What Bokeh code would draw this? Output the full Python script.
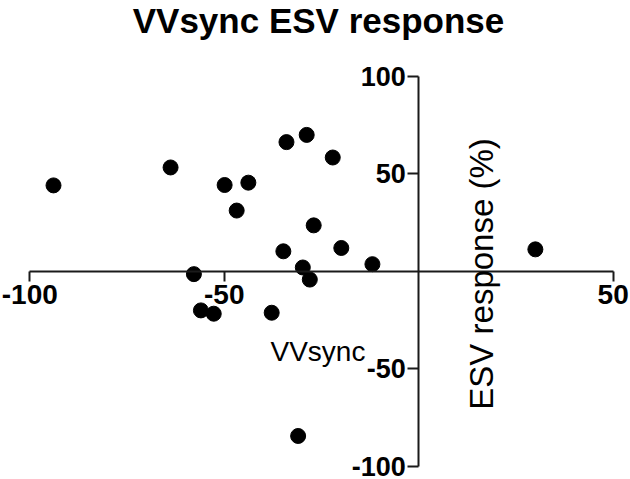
import math
from bokeh.plotting import figure
from bokeh.models import LinearAxis, FixedTicker, Label, Range1d, ColumnDataSource
from bokeh.embed import file_html
from bokeh.resources import INLINE

# Data (VVsync vs ESV response)
vvsync = [-93.9, -63.8, -49.9, -43.8, -46.8, -34.0, -28.8, -22.1, -27.0, -34.8,
          -19.9, -11.9, -29.8, -57.8, -28.0, 30.0, -56.0, -52.7, -37.8, -31.0]
esv_response = [44.0, 53.2, 44.2, 45.4, 31.1, 66.2, 69.9, 58.3, 23.5, 10.2,
                11.9, 3.6, 1.9, -1.5, -4.3, 11.2, -20.1, -21.8, -21.3, -84.5]

x_ticks = [-100, -50, 50]
y_ticks = [-100, -50, 50, 100]

title_text = "VVsync ESV response"
x_label = "VVsync"
y_label = "ESV response (%)"

FONT = "Liberation Sans"

p = figure(width=630, height=479, output_backend="svg", toolbar_location=None,
           x_axis_type=None, y_axis_type=None,
           x_range=Range1d(-107.53, 54.46), y_range=Range1d(-106.82, 138.82),
           min_border=0, min_border_left=0, min_border_right=0,
           min_border_top=0, min_border_bottom=0)
p.outline_line_color = None
p.xgrid.visible = False
p.ygrid.visible = False
p.background_fill_color = "white"
p.border_fill_color = "white"

src = ColumnDataSource(dict(x=vvsync, y=esv_response))
p.scatter("x", "y", source=src, size=15, fill_color="black", line_color="black")

axis_color = "#1a1a1a"

xaxis = LinearAxis(fixed_location=0, bounds=(-100, 50),
                   ticker=FixedTicker(ticks=x_ticks))
xaxis.major_label_overrides = {t: str(t) for t in x_ticks}
xaxis.axis_line_color = axis_color
xaxis.axis_line_width = 2
xaxis.major_tick_line_color = axis_color
xaxis.major_tick_line_width = 2
xaxis.major_tick_out = 10
xaxis.major_tick_in = 0
xaxis.minor_tick_line_color = None
xaxis.major_label_text_font = FONT
xaxis.major_label_text_font_style = "bold"
xaxis.major_label_text_font_size = "28px"
xaxis.major_label_text_color = "black"
xaxis.major_label_standoff = 4
p.add_layout(xaxis, "below")

yaxis = LinearAxis(fixed_location=0, bounds=(-100, 100),
                   ticker=FixedTicker(ticks=y_ticks))
yaxis.major_label_overrides = {t: str(t) for t in y_ticks}
yaxis.axis_line_color = axis_color
yaxis.axis_line_width = 2
yaxis.major_tick_line_color = axis_color
yaxis.major_tick_line_width = 2
yaxis.major_tick_out = 11
yaxis.major_tick_in = 0
yaxis.minor_tick_line_color = None
yaxis.major_label_text_font = FONT
yaxis.major_label_text_font_style = "bold"
yaxis.major_label_text_font_size = "27px"
yaxis.major_label_text_color = "black"
yaxis.major_label_standoff = 2
p.add_layout(yaxis, "left")

p.add_layout(Label(x=-25.77, y=128.6, text=title_text, text_align="center",
                   text_baseline="alphabetic", text_font=FONT,
                   text_font_style="bold", text_font_size="35px",
                   text_color="black"))
p.add_layout(Label(x=-38.11, y=-41.3, text=x_label, text_align="left",
                   text_baseline="alphabetic", text_font=FONT,
                   text_font_size="28px", text_color="black"))
p.add_layout(Label(x=16.1, y=-1.4, text=y_label, text_align="center",
                   text_baseline="alphabetic", angle=math.pi / 2,
                   text_font=FONT, text_font_size="33px", text_color="black"))

open("out.html", "w").write(file_html(p, INLINE))
